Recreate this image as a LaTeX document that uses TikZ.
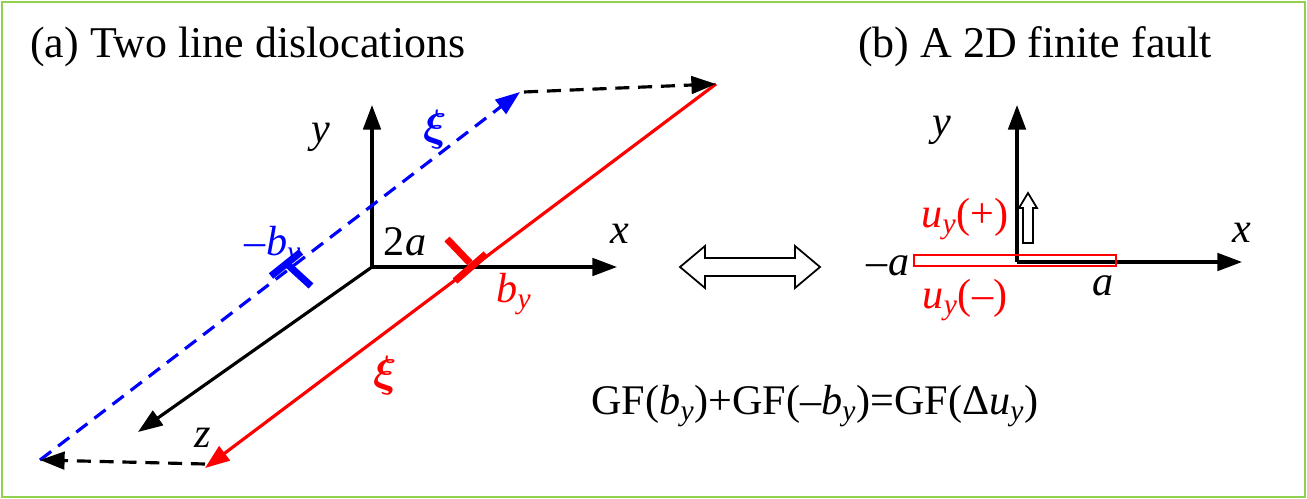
\documentclass[tikz,border=0pt]{standalone}
\usepackage{bm}
\usepackage{fontspec}
\setmainfont{Liberation Serif}
\usetikzlibrary{arrows.meta}
\definecolor{frame}{RGB}{146,208,80}
\definecolor{myblue}{RGB}{0,0,255}
\newcommand{\sby}{\textsubscript{\textit{y}}}
\begin{document}
\begin{tikzpicture}[x=0.02cm,y=-0.02cm,
  ax/.style={line width=1.8pt,-{Triangle[length=14pt,width=10pt]}},
  lbl/.style={font=\fontsize{24}{28}\selectfont,inner sep=0pt},
  ttl/.style={font=\fontsize{25}{30}\selectfont,inner sep=0pt}]
\useasboundingbox (0,0) rectangle (1307,499);
\draw[frame,line width=1.5pt] (2,2) rectangle (1305,497);
\node[ttl,anchor=west] (ta) at (30,47) {(a) Two line dislocations};
\node[ttl] (tb) at (1035,47) {(b) A 2D finite fault};
% left axes
\coordinate (O) at (372,267);
\coordinate (Y) at (372,105);
\coordinate (X) at (617,267);
\coordinate (Z) at (138,432);
\draw[ax] (O) -- (Y);
\draw[ax] (O) -- (X);
\draw[ax] (O) -- (Z);
% red dislocation line
\coordinate (R1) at (716,84);
\coordinate (R2) at (205,468);
\draw[red,line width=1.8pt,-{Triangle[length=14pt,width=10pt]}] (R1) -- (R2);
% blue dashed
\coordinate (B1) at (40,460);
\coordinate (B2) at (520,92);
\draw[myblue,line width=1.8pt,dash pattern=on 8pt off 5pt,-{Triangle[length=14pt,width=10pt]}] (B1) -- (B2);
\coordinate (T1) at (524,92);
\draw[line width=1.8pt,dash pattern=on 8pt off 5pt,-{Triangle[length=14pt,width=10pt]}] (T1) -- (R1);
\coordinate (D1) at (205,464);
\draw[line width=1.8pt,dash pattern=on 8pt off 5pt,-{Triangle[length=14pt,width=10pt]}] (D1) -- (B1);
% dislocation symbols
\draw[myblue,line width=4pt] (271,276) -- (301,252);
\draw[myblue,line width=4pt] (287,264) -- (311,286);
\draw[red,line width=4pt] (455,281) -- (486,254);
\draw[red,line width=4pt] (447,239) -- (470,263);
% labels
\node[lbl,myblue] (xib) at (435,130) {$\bm{\xi}$};
\node[lbl,red] (xir) at (385,376) {$\bm{\xi}$};
\node[lbl] (ly) at (321,137) {\textit{y}};
\node[lbl] (lx) at (620,234) {\textit{x}};
\node[lbl] (lz) at (203,438) {\textit{z}};
\node[lbl] (l2a) at (405,242) {2\textit{a}};
\node[lbl,myblue] (lmb) at (273,247) {–\textit{b}\sby};
\node[lbl,red] (lb) at (514,294) {\textit{b}\sby};
% hollow double arrow
\draw[line width=1pt,fill=white] (680,267) -- (705,246) -- (705,258) -- (795,258) -- (795,246) -- (820,267) -- (795,288) -- (795,276) -- (705,276) -- (705,288) -- cycle;
% right axes
\coordinate (O2) at (1017,262);
\coordinate (Y2) at (1017,105);
\coordinate (X2) at (1242,262);
\draw[ax] (O2) -- (Y2);
\draw[ax] (O2) -- (X2);
\draw[red,line width=1.5pt] (914,255) rectangle (1116,266);
\draw[line width=1pt,fill=white] (1023,243) -- (1023,208) -- (1019,208) -- (1028,193) -- (1037,208) -- (1033,208) -- (1033,243) -- cycle;
\node[lbl] (ry) at (942,130) {\textit{y}};
\node[lbl] (rx) at (1242,233) {\textit{x}};
\node[lbl,red] (up) at (965,219) {\textit{u}\sby(+)};
\node[lbl,red] (um) at (965,300) {\textit{u}\sby(–)};
\node[lbl] (ma) at (888,266) {–\textit{a}};
\node[lbl] (pa) at (1103,286) {\textit{a}};
\node[lbl] (eq) at (815,406) {GF(\textit{b}\sby)+GF(–\textit{b}\sby)=GF(Δ\textit{u}\sby)};
\end{tikzpicture}
\end{document}
